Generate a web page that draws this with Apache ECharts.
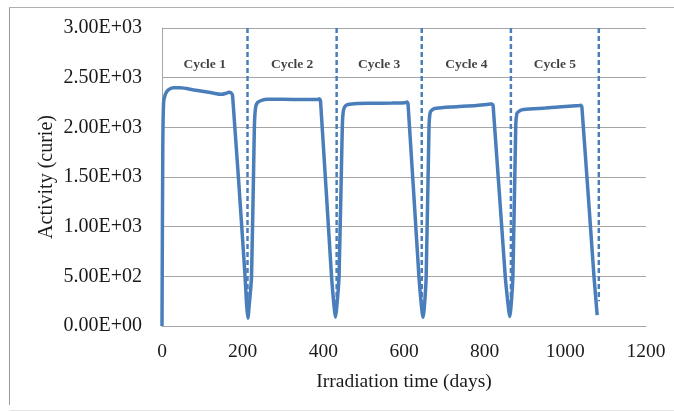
<!DOCTYPE html>
<html>
<head>
<meta charset="utf-8">
<script src="https://cdn.jsdelivr.net/npm/echarts@6/dist/echarts.min.js"></script>
<style>
  html, body { margin: 0; padding: 0; background: #fff; }
  #chart { width: 674px; height: 412px; }
</style>
</head>
<body>
<div id="chart"></div>
<script>
// activity curve, [day, curie]
var cycle1 = [[0,0],[2,1800],[4,2250],[8,2330],[15,2375],[28,2398],[45,2398],[80,2375],[120,2350],[148,2332],[160,2345],[166,2352],[171,2348],[175,2320],[205,560],[210,200],[213,78]];
var cycle2 = [[216,200],[222,500],[229,2000],[232,2200],[237,2250],[247,2272],[262,2282],[300,2282],[350,2280],[386,2280],[390,2287],[393,2268],[420,520],[427,180],[430,87]];
var cycle3 = [[433,180],[439,500],[447,2000],[450,2175],[456,2222],[470,2236],[520,2242],[570,2245],[603,2248],[607,2254],[610,2236],[637,500],[644,170],[647,87]];
var cycle4 = [[650,170],[655,500],[662,2000],[665,2150],[671,2180],[680,2192],[720,2205],[780,2220],[815,2234],[818,2236],[821,2215],[851,500],[859,180],[862,95]];
var cycle5 = [[865,180],[870,500],[877,2000],[880,2140],[887,2168],[897,2180],[950,2195],[1000,2210],[1035,2220],[1038,2222],[1041,2205],[1071,500],[1079,110]];

// dashed cycle boundaries (days)
var cycleBounds = [212, 433, 644, 865, 1083];
var boundTop = 3000;
var boundBottom = 250;

var cycleNames = ['Cycle 1', 'Cycle 2', 'Cycle 3', 'Cycle 4', 'Cycle 5'];
var cycleLabelY = 2630;

var xTickLabels = ['0', '200', '400', '600', '800', '1000', '1200'];
var yTickLabels = ['0.00E+00', '5.00E+02', '1.00E+03', '1.50E+03', '2.00E+03', '2.50E+03', '3.00E+03'];

var blue = '#4a7ebb';
var serif = "'Liberation Serif', 'Times New Roman', serif";

var curve = [].concat(cycle1, cycle2, cycle3, cycle4, cycle5);

var series = [{
  type: 'line',
  data: curve,
  smooth: 0.25,
  showSymbol: false,
  lineStyle: { color: blue, width: 3.5 },
  z: 3
}];

cycleBounds.forEach(function (x) {
  series.push({
    type: 'line',
    data: [[x, boundTop], [x, boundBottom]],
    showSymbol: false,
    lineStyle: { color: blue, width: 2.5, type: [5, 3] },
    z: 2
  });
});

var labelPts = cycleNames.map(function (name, i) {
  var left = i === 0 ? 0 : cycleBounds[i - 1];
  return { value: [(left + cycleBounds[i]) / 2, cycleLabelY], name: name };
});
series.push({
  type: 'scatter',
  data: labelPts,
  symbolSize: 0,
  label: {
    show: true,
    position: 'inside',
    formatter: '{b}',
    fontFamily: serif,
    fontWeight: 'bold',
    fontSize: 13.5,
    color: '#111'
  },
  z: 4
});

var chart = echarts.init(document.getElementById('chart'));
chart.setOption({
  animation: false,
  backgroundColor: '#fff',
  grid: { left: 162, right: 28, top: 28, bottom: 86 },
  xAxis: {
    type: 'value',
    min: 0,
    max: 1200,
    interval: 200,
    name: 'Irradiation time (days)',
    nameLocation: 'middle',
    nameGap: 46,
    nameMoveOverlap: false,
    nameTextStyle: { fontFamily: serif, fontSize: 19.5, color: '#1a1a1a' },
    axisLine: { show: true, lineStyle: { color: '#a6a6a6', width: 1 } },
    axisTick: { show: false },
    splitLine: { show: false },
    axisLabel: {
      fontFamily: serif, fontSize: 19.5, color: '#1a1a1a', margin: 16,
      formatter: function (v, i) { return xTickLabels[i]; }
    }
  },
  yAxis: {
    type: 'value',
    min: 0,
    max: 3000,
    interval: 500,
    name: 'Activity (curie)',
    nameLocation: 'middle',
    nameGap: 105,
    nameMoveOverlap: false,
    nameTextStyle: { fontFamily: serif, fontSize: 20, color: '#1a1a1a' },
    axisLine: { show: true, lineStyle: { color: '#a6a6a6', width: 1 } },
    axisTick: { show: false },
    splitLine: { show: true, lineStyle: { color: '#a6a6a6', width: 1 } },
    axisLabel: {
      fontFamily: serif, fontSize: 20, color: '#1a1a1a', margin: 20,
      formatter: function (v, i) { return yTickLabels[i]; }
    }
  },
  graphic: [
    { type: 'line', shape: { x1: 9.5, y1: 7, x2: 9.5, y2: 405 }, style: { stroke: '#9a9a9a', lineWidth: 1 } },
    { type: 'line', shape: { x1: 9, y1: 7.5, x2: 674, y2: 7.5 }, style: { stroke: '#b0b0b0', lineWidth: 1 } },
    { type: 'line', shape: { x1: 10, y1: 410.5, x2: 674, y2: 410.5 }, style: { stroke: '#e4e4e4', lineWidth: 1 } }
  ],
  series: series
});
</script>
</body>
</html>
